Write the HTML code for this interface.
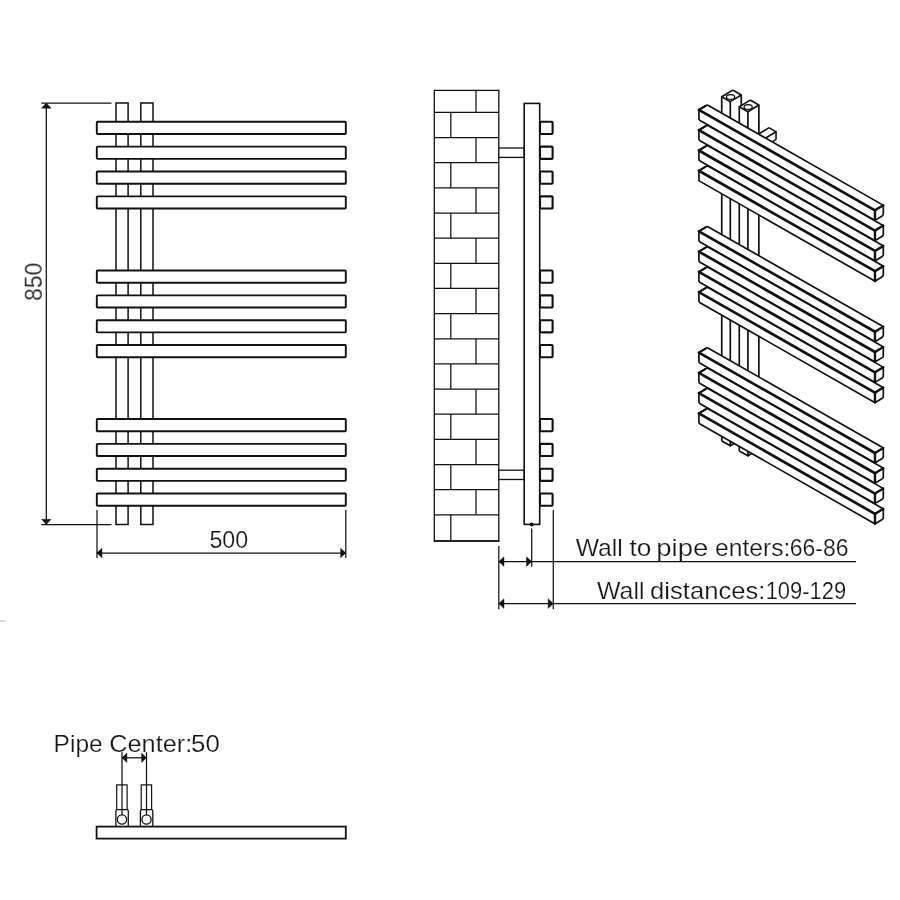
<!DOCTYPE html>
<html lang="en"><head><meta charset="utf-8"><title>Towel radiator dimensions</title>
<style>
html,body{margin:0;padding:0;background:#fff;}
body{width:900px;height:900px;overflow:hidden;}
svg{display:block;}
.t{font-family:"Liberation Sans",sans-serif;fill:#141414;stroke:#fff;stroke-width:0.22px;paint-order:fill stroke;opacity:0.995;}
</style></head><body>
<svg width="900" height="900" viewBox="0 0 900 900">
<rect width="900" height="900" fill="#fff"/>
<g>
<rect x="116.00" y="103.00" width="12.10" height="421.50" rx="0" fill="#fff" stroke="#111" stroke-width="1.5"/>
<rect x="140.80" y="103.00" width="12.20" height="421.50" rx="0" fill="#fff" stroke="#111" stroke-width="1.5"/>
<rect x="96.80" y="121.80" width="249.00" height="12.20" rx="0.8" fill="#fff" stroke="#111" stroke-width="1.9"/>
<rect x="96.80" y="146.65" width="249.00" height="12.20" rx="0.8" fill="#fff" stroke="#111" stroke-width="1.9"/>
<rect x="96.80" y="171.50" width="249.00" height="12.20" rx="0.8" fill="#fff" stroke="#111" stroke-width="1.9"/>
<rect x="96.80" y="196.35" width="249.00" height="12.20" rx="0.8" fill="#fff" stroke="#111" stroke-width="1.9"/>
<rect x="96.80" y="270.50" width="249.00" height="12.20" rx="0.8" fill="#fff" stroke="#111" stroke-width="1.9"/>
<rect x="96.80" y="295.35" width="249.00" height="12.20" rx="0.8" fill="#fff" stroke="#111" stroke-width="1.9"/>
<rect x="96.80" y="320.20" width="249.00" height="12.20" rx="0.8" fill="#fff" stroke="#111" stroke-width="1.9"/>
<rect x="96.80" y="345.05" width="249.00" height="12.20" rx="0.8" fill="#fff" stroke="#111" stroke-width="1.9"/>
<rect x="96.80" y="419.00" width="249.00" height="12.20" rx="0.8" fill="#fff" stroke="#111" stroke-width="1.9"/>
<rect x="96.80" y="443.85" width="249.00" height="12.20" rx="0.8" fill="#fff" stroke="#111" stroke-width="1.9"/>
<rect x="96.80" y="468.70" width="249.00" height="12.20" rx="0.8" fill="#fff" stroke="#111" stroke-width="1.9"/>
<rect x="96.80" y="493.55" width="249.00" height="12.20" rx="0.8" fill="#fff" stroke="#111" stroke-width="1.9"/>
<line x1="41.30" y1="103.00" x2="111.50" y2="103.00" stroke="#111" stroke-width="1.25" stroke-linecap="butt"/>
<line x1="41.30" y1="524.50" x2="111.50" y2="524.50" stroke="#111" stroke-width="1.25" stroke-linecap="butt"/>
<line x1="46.30" y1="103.00" x2="46.30" y2="524.50" stroke="#111" stroke-width="1.25" stroke-linecap="butt"/>
<polygon points="46.30,103.00 51.10,108.20 41.50,108.20" fill="#111" stroke="#111" stroke-width="0.4" stroke-linejoin="round"/>
<polygon points="46.30,524.50 41.50,519.30 51.10,519.30" fill="#111" stroke="#111" stroke-width="0.4" stroke-linejoin="round"/>
<line x1="97.00" y1="510.00" x2="97.00" y2="558.00" stroke="#111" stroke-width="1.25" stroke-linecap="butt"/>
<line x1="345.80" y1="510.00" x2="345.80" y2="558.00" stroke="#111" stroke-width="1.25" stroke-linecap="butt"/>
<line x1="96.80" y1="553.00" x2="345.80" y2="553.00" stroke="#111" stroke-width="1.25" stroke-linecap="butt"/>
<polygon points="96.80,553.00 102.00,548.20 102.00,557.80" fill="#111" stroke="#111" stroke-width="0.4" stroke-linejoin="round"/>
<polygon points="345.80,553.00 340.60,557.80 340.60,548.20" fill="#111" stroke="#111" stroke-width="0.4" stroke-linejoin="round"/>
<rect x="434.30" y="90.40" width="64.50" height="450.60" rx="0" fill="none" stroke="#111" stroke-width="1.3"/>
<line x1="434.30" y1="112.40" x2="498.80" y2="112.40" stroke="#111" stroke-width="1.25" stroke-linecap="butt"/>
<line x1="434.30" y1="137.55" x2="498.80" y2="137.55" stroke="#111" stroke-width="1.25" stroke-linecap="butt"/>
<line x1="434.30" y1="162.70" x2="498.80" y2="162.70" stroke="#111" stroke-width="1.25" stroke-linecap="butt"/>
<line x1="434.30" y1="187.85" x2="498.80" y2="187.85" stroke="#111" stroke-width="1.25" stroke-linecap="butt"/>
<line x1="434.30" y1="213.00" x2="498.80" y2="213.00" stroke="#111" stroke-width="1.25" stroke-linecap="butt"/>
<line x1="434.30" y1="238.15" x2="498.80" y2="238.15" stroke="#111" stroke-width="1.25" stroke-linecap="butt"/>
<line x1="434.30" y1="263.30" x2="498.80" y2="263.30" stroke="#111" stroke-width="1.25" stroke-linecap="butt"/>
<line x1="434.30" y1="288.45" x2="498.80" y2="288.45" stroke="#111" stroke-width="1.25" stroke-linecap="butt"/>
<line x1="434.30" y1="313.60" x2="498.80" y2="313.60" stroke="#111" stroke-width="1.25" stroke-linecap="butt"/>
<line x1="434.30" y1="338.75" x2="498.80" y2="338.75" stroke="#111" stroke-width="1.25" stroke-linecap="butt"/>
<line x1="434.30" y1="363.90" x2="498.80" y2="363.90" stroke="#111" stroke-width="1.25" stroke-linecap="butt"/>
<line x1="434.30" y1="389.05" x2="498.80" y2="389.05" stroke="#111" stroke-width="1.25" stroke-linecap="butt"/>
<line x1="434.30" y1="414.20" x2="498.80" y2="414.20" stroke="#111" stroke-width="1.25" stroke-linecap="butt"/>
<line x1="434.30" y1="439.35" x2="498.80" y2="439.35" stroke="#111" stroke-width="1.25" stroke-linecap="butt"/>
<line x1="434.30" y1="464.50" x2="498.80" y2="464.50" stroke="#111" stroke-width="1.25" stroke-linecap="butt"/>
<line x1="434.30" y1="489.65" x2="498.80" y2="489.65" stroke="#111" stroke-width="1.25" stroke-linecap="butt"/>
<line x1="434.30" y1="514.80" x2="498.80" y2="514.80" stroke="#111" stroke-width="1.25" stroke-linecap="butt"/>
<line x1="476.00" y1="90.40" x2="476.00" y2="112.40" stroke="#111" stroke-width="1.25" stroke-linecap="butt"/>
<line x1="450.80" y1="112.40" x2="450.80" y2="137.55" stroke="#111" stroke-width="1.25" stroke-linecap="butt"/>
<line x1="476.00" y1="137.55" x2="476.00" y2="162.70" stroke="#111" stroke-width="1.25" stroke-linecap="butt"/>
<line x1="450.80" y1="162.70" x2="450.80" y2="187.85" stroke="#111" stroke-width="1.25" stroke-linecap="butt"/>
<line x1="476.00" y1="187.85" x2="476.00" y2="213.00" stroke="#111" stroke-width="1.25" stroke-linecap="butt"/>
<line x1="450.80" y1="213.00" x2="450.80" y2="238.15" stroke="#111" stroke-width="1.25" stroke-linecap="butt"/>
<line x1="476.00" y1="238.15" x2="476.00" y2="263.30" stroke="#111" stroke-width="1.25" stroke-linecap="butt"/>
<line x1="450.80" y1="263.30" x2="450.80" y2="288.45" stroke="#111" stroke-width="1.25" stroke-linecap="butt"/>
<line x1="476.00" y1="288.45" x2="476.00" y2="313.60" stroke="#111" stroke-width="1.25" stroke-linecap="butt"/>
<line x1="450.80" y1="313.60" x2="450.80" y2="338.75" stroke="#111" stroke-width="1.25" stroke-linecap="butt"/>
<line x1="476.00" y1="338.75" x2="476.00" y2="363.90" stroke="#111" stroke-width="1.25" stroke-linecap="butt"/>
<line x1="450.80" y1="363.90" x2="450.80" y2="389.05" stroke="#111" stroke-width="1.25" stroke-linecap="butt"/>
<line x1="476.00" y1="389.05" x2="476.00" y2="414.20" stroke="#111" stroke-width="1.25" stroke-linecap="butt"/>
<line x1="450.80" y1="414.20" x2="450.80" y2="439.35" stroke="#111" stroke-width="1.25" stroke-linecap="butt"/>
<line x1="476.00" y1="439.35" x2="476.00" y2="464.50" stroke="#111" stroke-width="1.25" stroke-linecap="butt"/>
<line x1="450.80" y1="464.50" x2="450.80" y2="489.65" stroke="#111" stroke-width="1.25" stroke-linecap="butt"/>
<line x1="476.00" y1="489.65" x2="476.00" y2="514.80" stroke="#111" stroke-width="1.25" stroke-linecap="butt"/>
<line x1="450.80" y1="514.80" x2="450.80" y2="541.00" stroke="#111" stroke-width="1.25" stroke-linecap="butt"/>
<line x1="433.70" y1="541.00" x2="499.40" y2="541.00" stroke="#111" stroke-width="1.7" stroke-linecap="butt"/>
<rect x="498.80" y="148.00" width="25.40" height="9.40" rx="0" fill="#fff" stroke="#111" stroke-width="1.3"/>
<rect x="498.80" y="470.20" width="25.40" height="9.30" rx="0" fill="#fff" stroke="#111" stroke-width="1.3"/>
<rect x="524.20" y="103.40" width="15.50" height="421.00" rx="0" fill="#fff" stroke="#111" stroke-width="1.6"/>
<rect x="540.00" y="121.80" width="12.60" height="12.20" rx="0.9" fill="#fff" stroke="#111" stroke-width="2.1"/>
<rect x="540.00" y="146.65" width="12.60" height="12.20" rx="0.9" fill="#fff" stroke="#111" stroke-width="2.1"/>
<rect x="540.00" y="171.50" width="12.60" height="12.20" rx="0.9" fill="#fff" stroke="#111" stroke-width="2.1"/>
<rect x="540.00" y="196.35" width="12.60" height="12.20" rx="0.9" fill="#fff" stroke="#111" stroke-width="2.1"/>
<rect x="540.00" y="270.50" width="12.60" height="12.20" rx="0.9" fill="#fff" stroke="#111" stroke-width="2.1"/>
<rect x="540.00" y="295.35" width="12.60" height="12.20" rx="0.9" fill="#fff" stroke="#111" stroke-width="2.1"/>
<rect x="540.00" y="320.20" width="12.60" height="12.20" rx="0.9" fill="#fff" stroke="#111" stroke-width="2.1"/>
<rect x="540.00" y="345.05" width="12.60" height="12.20" rx="0.9" fill="#fff" stroke="#111" stroke-width="2.1"/>
<rect x="540.00" y="419.00" width="12.60" height="12.20" rx="0.9" fill="#fff" stroke="#111" stroke-width="2.1"/>
<rect x="540.00" y="443.85" width="12.60" height="12.20" rx="0.9" fill="#fff" stroke="#111" stroke-width="2.1"/>
<rect x="540.00" y="468.70" width="12.60" height="12.20" rx="0.9" fill="#fff" stroke="#111" stroke-width="2.1"/>
<rect x="540.00" y="493.55" width="12.60" height="12.20" rx="0.9" fill="#fff" stroke="#111" stroke-width="2.1"/>
<line x1="498.80" y1="546.00" x2="498.80" y2="609.30" stroke="#111" stroke-width="1.25" stroke-linecap="butt"/>
<line x1="531.70" y1="528.60" x2="531.70" y2="566.70" stroke="#111" stroke-width="1.25" stroke-linecap="butt"/>
<line x1="553.30" y1="510.00" x2="553.30" y2="609.30" stroke="#111" stroke-width="1.25" stroke-linecap="butt"/>
<line x1="498.80" y1="561.60" x2="856.00" y2="561.60" stroke="#111" stroke-width="1.25" stroke-linecap="butt"/>
<line x1="498.80" y1="603.60" x2="856.00" y2="603.60" stroke="#111" stroke-width="1.25" stroke-linecap="butt"/>
<circle cx="531.7" cy="524.4" r="2.0" fill="#111"/>
<polygon points="498.80,561.60 504.00,556.80 504.00,566.40" fill="#111" stroke="#111" stroke-width="0.4" stroke-linejoin="round"/>
<polygon points="531.70,561.60 526.50,566.40 526.50,556.80" fill="#111" stroke="#111" stroke-width="0.4" stroke-linejoin="round"/>
<polygon points="498.80,603.60 504.00,598.80 504.00,608.40" fill="#111" stroke="#111" stroke-width="0.4" stroke-linejoin="round"/>
<polygon points="553.30,603.60 548.10,608.40 548.10,598.80" fill="#111" stroke="#111" stroke-width="0.4" stroke-linejoin="round"/>
<rect x="116.70" y="784.90" width="10.40" height="24.70" rx="0" fill="#fff" stroke="#111" stroke-width="1.2"/>
<rect x="115.90" y="809.60" width="12.40" height="17.10" rx="1.5" fill="#fff" stroke="#111" stroke-width="1.3"/>
<line x1="122.00" y1="752.20" x2="122.00" y2="819.30" stroke="#111" stroke-width="1.25" stroke-linecap="butt"/>
<circle cx="122.0" cy="819.5" r="4.6" fill="#fff" stroke="#111" stroke-width="1.3"/>
<rect x="141.20" y="784.90" width="10.40" height="24.70" rx="0" fill="#fff" stroke="#111" stroke-width="1.2"/>
<rect x="140.40" y="809.60" width="12.40" height="17.10" rx="1.5" fill="#fff" stroke="#111" stroke-width="1.3"/>
<line x1="146.50" y1="752.20" x2="146.50" y2="819.30" stroke="#111" stroke-width="1.25" stroke-linecap="butt"/>
<circle cx="146.5" cy="819.5" r="4.6" fill="#fff" stroke="#111" stroke-width="1.3"/>
<rect x="96.60" y="826.60" width="249.20" height="12.00" rx="0" fill="#fff" stroke="#111" stroke-width="1.8"/>
<line x1="122.00" y1="757.80" x2="146.50" y2="757.80" stroke="#111" stroke-width="1.25" stroke-linecap="butt"/>
<polygon points="122.00,757.80 126.90,753.00 126.90,762.60" fill="#111" stroke="#111" stroke-width="0.4" stroke-linejoin="round"/>
<polygon points="146.50,757.80 141.60,762.60 141.60,753.00" fill="#111" stroke="#111" stroke-width="0.4" stroke-linejoin="round"/>
<line x1="0" y1="621" x2="5.6" y2="621" stroke="#c6c6c6" stroke-width="1.3"/>
<path d="M733.41 129.37 Q733.41 128.57 734.09 128.15 L750.68 118.09 Q751.37 117.68 752.06 118.08 L757.74 121.32 Q758.44 121.71 758.44 122.51 L758.44 128.59 Q758.44 129.39 757.75 129.80 L741.16 139.86 Q740.48 140.28 739.78 139.88 L734.10 136.64 Q733.41 136.24 733.41 135.44 Z" fill="#fff" stroke="#111" stroke-width="1.6" stroke-linejoin="round"/>
<line x1="740.48" y1="132.60" x2="733.41" y2="128.57" stroke="#111" stroke-width="1.6" stroke-linecap="round"/>
<line x1="740.48" y1="132.60" x2="758.44" y2="121.71" stroke="#111" stroke-width="1.6" stroke-linecap="round"/>
<line x1="740.48" y1="132.60" x2="740.48" y2="140.28" stroke="#111" stroke-width="1.6" stroke-linecap="round"/>
<path d="M733.41 392.44 Q733.41 391.64 734.09 391.23 L750.68 381.17 Q751.37 380.76 752.06 381.15 L757.74 384.39 Q758.44 384.79 758.44 385.59 L758.44 391.58 Q758.44 392.38 757.75 392.80 L741.16 402.86 Q740.48 403.27 739.78 402.88 L734.10 399.63 Q733.41 399.24 733.41 398.44 Z" fill="#fff" stroke="#111" stroke-width="1.6" stroke-linejoin="round"/>
<line x1="740.48" y1="395.68" x2="733.41" y2="391.64" stroke="#111" stroke-width="1.6" stroke-linecap="round"/>
<line x1="740.48" y1="395.68" x2="758.44" y2="384.79" stroke="#111" stroke-width="1.6" stroke-linecap="round"/>
<line x1="740.48" y1="395.68" x2="740.48" y2="403.27" stroke="#111" stroke-width="1.6" stroke-linecap="round"/>
<path d="M751.01 139.41 Q751.01 138.61 751.70 138.20 L768.29 128.14 Q768.97 127.72 769.67 128.12 L775.35 131.36 Q776.05 131.76 776.05 132.56 L776.05 138.63 Q776.05 139.43 775.36 139.85 L758.77 149.91 Q758.09 150.32 757.39 149.92 L751.71 146.68 Q751.01 146.29 751.01 145.49 Z" fill="#fff" stroke="#111" stroke-width="1.6" stroke-linejoin="round"/>
<line x1="758.09" y1="142.65" x2="751.01" y2="138.61" stroke="#111" stroke-width="1.6" stroke-linecap="round"/>
<line x1="758.09" y1="142.65" x2="776.05" y2="131.76" stroke="#111" stroke-width="1.6" stroke-linecap="round"/>
<line x1="758.09" y1="142.65" x2="758.09" y2="150.32" stroke="#111" stroke-width="1.6" stroke-linecap="round"/>
<path d="M751.01 402.49 Q751.01 401.69 751.70 401.27 L768.29 391.21 Q768.97 390.80 769.67 391.20 L775.35 394.44 Q776.05 394.83 776.05 395.63 L776.05 401.63 Q776.05 402.43 775.36 402.84 L758.77 412.90 Q758.09 413.31 757.39 412.92 L751.71 409.68 Q751.01 409.28 751.01 408.48 Z" fill="#fff" stroke="#111" stroke-width="1.6" stroke-linejoin="round"/>
<line x1="758.09" y1="405.72" x2="751.01" y2="401.69" stroke="#111" stroke-width="1.6" stroke-linecap="round"/>
<line x1="758.09" y1="405.72" x2="776.05" y2="394.83" stroke="#111" stroke-width="1.6" stroke-linecap="round"/>
<line x1="758.09" y1="405.72" x2="758.09" y2="413.31" stroke="#111" stroke-width="1.6" stroke-linecap="round"/>
<path d="M721.74 97.76 Q721.74 96.76 722.59 96.24 L731.84 90.63 Q732.70 90.12 733.57 90.61 L740.39 94.50 Q741.26 95.00 741.26 96.00 L741.26 438.15 Q741.26 439.15 740.40 439.67 L731.15 445.28 Q730.30 445.80 729.43 445.30 L722.61 441.41 Q721.74 440.92 721.74 439.92 Z" fill="#fff" stroke="#111" stroke-width="1.7" stroke-linejoin="round"/>
<line x1="730.30" y1="101.64" x2="721.74" y2="96.76" stroke="#111" stroke-width="1.7" stroke-linecap="round"/>
<line x1="730.30" y1="101.64" x2="741.26" y2="95.00" stroke="#111" stroke-width="1.7" stroke-linecap="round"/>
<line x1="730.30" y1="101.64" x2="730.30" y2="445.80" stroke="#111" stroke-width="1.7" stroke-linecap="round"/>
<ellipse cx="730.57" cy="96.94" rx="4.1" ry="2.4" fill="#fff" stroke="#111" stroke-width="1.3"/>
<path d="M739.28 107.76 Q739.28 106.76 740.13 106.25 L749.38 100.64 Q750.24 100.12 751.10 100.61 L757.99 104.54 Q758.86 105.04 758.86 106.04 L758.86 448.19 Q758.86 449.19 758.01 449.71 L748.76 455.32 Q747.90 455.84 747.03 455.34 L740.14 451.41 Q739.28 450.92 739.28 449.92 Z" fill="#fff" stroke="#111" stroke-width="1.7" stroke-linejoin="round"/>
<line x1="747.90" y1="111.68" x2="739.28" y2="106.76" stroke="#111" stroke-width="1.7" stroke-linecap="round"/>
<line x1="747.90" y1="111.68" x2="758.86" y2="105.04" stroke="#111" stroke-width="1.7" stroke-linecap="round"/>
<line x1="747.90" y1="111.68" x2="747.90" y2="455.84" stroke="#111" stroke-width="1.7" stroke-linecap="round"/>
<ellipse cx="748.15" cy="106.96" rx="4.1" ry="2.4" fill="#fff" stroke="#111" stroke-width="1.3"/>
<path d="M698.90 111.20 Q698.90 109.90 700.01 109.23 L706.13 105.52 Q707.24 104.84 708.37 105.49 L882.19 204.63 Q883.31 205.28 883.31 206.58 L883.31 213.94 Q883.31 215.24 882.20 215.91 L876.08 219.62 Q874.97 220.30 873.84 219.65 L700.03 120.51 Q698.90 119.86 698.90 118.56 Z" fill="#fff" stroke="#111" stroke-width="1.7" stroke-linejoin="round"/>
<path d="M698.90 109.90 L705.58 105.85" fill="none" stroke="#111" stroke-width="2.0" stroke-linecap="round"/>
<line x1="874.97" y1="210.33" x2="698.90" y2="109.90" stroke="#111" stroke-width="2.7" stroke-linecap="round"/>
<line x1="874.97" y1="210.33" x2="883.31" y2="205.28" stroke="#111" stroke-width="2.4" stroke-linecap="round"/>
<line x1="874.97" y1="210.33" x2="874.97" y2="220.30" stroke="#111" stroke-width="2.4" stroke-linecap="round"/>
<path d="M698.90 131.49 Q698.90 130.19 700.01 129.52 L706.13 125.81 Q707.24 125.13 708.37 125.78 L882.19 224.92 Q883.31 225.57 883.31 226.87 L883.31 234.23 Q883.31 235.53 882.20 236.20 L876.08 239.91 Q874.97 240.59 873.84 239.94 L700.03 140.80 Q698.90 140.15 698.90 138.85 Z" fill="#fff" stroke="#111" stroke-width="1.7" stroke-linejoin="round"/>
<path d="M698.90 130.19 L705.58 126.14" fill="none" stroke="#111" stroke-width="2.0" stroke-linecap="round"/>
<line x1="874.97" y1="230.62" x2="698.90" y2="130.19" stroke="#111" stroke-width="2.7" stroke-linecap="round"/>
<line x1="874.97" y1="230.62" x2="883.31" y2="225.57" stroke="#111" stroke-width="2.4" stroke-linecap="round"/>
<line x1="874.97" y1="230.62" x2="874.97" y2="240.59" stroke="#111" stroke-width="2.4" stroke-linecap="round"/>
<path d="M698.90 151.78 Q698.90 150.48 700.01 149.81 L706.13 146.10 Q707.24 145.42 708.37 146.07 L882.19 245.21 Q883.31 245.86 883.31 247.16 L883.31 254.52 Q883.31 255.82 882.20 256.49 L876.08 260.20 Q874.97 260.88 873.84 260.23 L700.03 161.09 Q698.90 160.44 698.90 159.14 Z" fill="#fff" stroke="#111" stroke-width="1.7" stroke-linejoin="round"/>
<path d="M698.90 150.48 L705.58 146.43" fill="none" stroke="#111" stroke-width="2.0" stroke-linecap="round"/>
<line x1="874.97" y1="250.91" x2="698.90" y2="150.48" stroke="#111" stroke-width="2.7" stroke-linecap="round"/>
<line x1="874.97" y1="250.91" x2="883.31" y2="245.86" stroke="#111" stroke-width="2.4" stroke-linecap="round"/>
<line x1="874.97" y1="250.91" x2="874.97" y2="260.88" stroke="#111" stroke-width="2.4" stroke-linecap="round"/>
<path d="M698.90 172.07 Q698.90 170.77 700.01 170.10 L706.13 166.39 Q707.24 165.71 708.37 166.36 L882.19 265.50 Q883.31 266.15 883.31 267.45 L883.31 274.81 Q883.31 276.11 882.20 276.78 L876.08 280.49 Q874.97 281.17 873.84 280.52 L700.03 181.38 Q698.90 180.73 698.90 179.43 Z" fill="#fff" stroke="#111" stroke-width="1.7" stroke-linejoin="round"/>
<path d="M698.90 170.77 L705.58 166.72" fill="none" stroke="#111" stroke-width="2.0" stroke-linecap="round"/>
<line x1="874.97" y1="271.20" x2="698.90" y2="170.77" stroke="#111" stroke-width="2.7" stroke-linecap="round"/>
<line x1="874.97" y1="271.20" x2="883.31" y2="266.15" stroke="#111" stroke-width="2.4" stroke-linecap="round"/>
<line x1="874.97" y1="271.20" x2="874.97" y2="281.17" stroke="#111" stroke-width="2.4" stroke-linecap="round"/>
<path d="M698.90 232.61 Q698.90 231.31 700.01 230.64 L706.13 226.93 Q707.24 226.26 708.37 226.90 L882.19 326.05 Q883.31 326.69 883.31 327.99 L883.31 335.35 Q883.31 336.65 882.20 337.32 L876.08 341.04 Q874.97 341.71 873.84 341.07 L700.03 241.92 Q698.90 241.27 698.90 239.97 Z" fill="#fff" stroke="#111" stroke-width="1.7" stroke-linejoin="round"/>
<path d="M698.90 231.31 L705.58 227.27" fill="none" stroke="#111" stroke-width="2.0" stroke-linecap="round"/>
<line x1="874.97" y1="331.75" x2="698.90" y2="231.31" stroke="#111" stroke-width="2.7" stroke-linecap="round"/>
<line x1="874.97" y1="331.75" x2="883.31" y2="326.69" stroke="#111" stroke-width="2.4" stroke-linecap="round"/>
<line x1="874.97" y1="331.75" x2="874.97" y2="341.71" stroke="#111" stroke-width="2.4" stroke-linecap="round"/>
<path d="M698.90 252.90 Q698.90 251.60 700.01 250.93 L706.13 247.22 Q707.24 246.55 708.37 247.19 L882.19 346.34 Q883.31 346.98 883.31 348.28 L883.31 355.64 Q883.31 356.94 882.20 357.61 L876.08 361.33 Q874.97 362.00 873.84 361.36 L700.03 262.21 Q698.90 261.56 698.90 260.26 Z" fill="#fff" stroke="#111" stroke-width="1.7" stroke-linejoin="round"/>
<path d="M698.90 251.60 L705.58 247.56" fill="none" stroke="#111" stroke-width="2.0" stroke-linecap="round"/>
<line x1="874.97" y1="352.04" x2="698.90" y2="251.60" stroke="#111" stroke-width="2.7" stroke-linecap="round"/>
<line x1="874.97" y1="352.04" x2="883.31" y2="346.98" stroke="#111" stroke-width="2.4" stroke-linecap="round"/>
<line x1="874.97" y1="352.04" x2="874.97" y2="362.00" stroke="#111" stroke-width="2.4" stroke-linecap="round"/>
<path d="M698.90 273.19 Q698.90 271.89 700.01 271.22 L706.13 267.51 Q707.24 266.84 708.37 267.48 L882.19 366.63 Q883.31 367.27 883.31 368.57 L883.31 375.93 Q883.31 377.23 882.20 377.91 L876.08 381.62 Q874.97 382.29 873.84 381.65 L700.03 282.50 Q698.90 281.85 698.90 280.55 Z" fill="#fff" stroke="#111" stroke-width="1.7" stroke-linejoin="round"/>
<path d="M698.90 271.89 L705.58 267.85" fill="none" stroke="#111" stroke-width="2.0" stroke-linecap="round"/>
<line x1="874.97" y1="372.33" x2="698.90" y2="271.89" stroke="#111" stroke-width="2.7" stroke-linecap="round"/>
<line x1="874.97" y1="372.33" x2="883.31" y2="367.27" stroke="#111" stroke-width="2.4" stroke-linecap="round"/>
<line x1="874.97" y1="372.33" x2="874.97" y2="382.29" stroke="#111" stroke-width="2.4" stroke-linecap="round"/>
<path d="M698.90 293.48 Q698.90 292.18 700.01 291.51 L706.13 287.80 Q707.24 287.13 708.37 287.77 L882.19 386.92 Q883.31 387.56 883.31 388.86 L883.31 396.22 Q883.31 397.52 882.20 398.20 L876.08 401.91 Q874.97 402.58 873.84 401.94 L700.03 302.79 Q698.90 302.14 698.90 300.84 Z" fill="#fff" stroke="#111" stroke-width="1.7" stroke-linejoin="round"/>
<path d="M698.90 292.18 L705.58 288.14" fill="none" stroke="#111" stroke-width="2.0" stroke-linecap="round"/>
<line x1="874.97" y1="392.62" x2="698.90" y2="292.18" stroke="#111" stroke-width="2.7" stroke-linecap="round"/>
<line x1="874.97" y1="392.62" x2="883.31" y2="387.56" stroke="#111" stroke-width="2.4" stroke-linecap="round"/>
<line x1="874.97" y1="392.62" x2="874.97" y2="402.58" stroke="#111" stroke-width="2.4" stroke-linecap="round"/>
<path d="M698.90 353.86 Q698.90 352.56 700.01 351.89 L706.13 348.18 Q707.24 347.51 708.37 348.15 L882.19 447.30 Q883.31 447.94 883.31 449.24 L883.31 456.60 Q883.31 457.90 882.20 458.58 L876.08 462.29 Q874.97 462.96 873.84 462.32 L700.03 363.17 Q698.90 362.53 698.90 361.23 Z" fill="#fff" stroke="#111" stroke-width="1.7" stroke-linejoin="round"/>
<path d="M698.90 352.56 L705.58 348.52" fill="none" stroke="#111" stroke-width="2.0" stroke-linecap="round"/>
<line x1="874.97" y1="453.00" x2="698.90" y2="352.56" stroke="#111" stroke-width="2.7" stroke-linecap="round"/>
<line x1="874.97" y1="453.00" x2="883.31" y2="447.94" stroke="#111" stroke-width="2.4" stroke-linecap="round"/>
<line x1="874.97" y1="453.00" x2="874.97" y2="462.96" stroke="#111" stroke-width="2.4" stroke-linecap="round"/>
<path d="M698.90 374.15 Q698.90 372.85 700.01 372.18 L706.13 368.47 Q707.24 367.80 708.37 368.44 L882.19 467.59 Q883.31 468.23 883.31 469.53 L883.31 476.89 Q883.31 478.19 882.20 478.87 L876.08 482.58 Q874.97 483.25 873.84 482.61 L700.03 383.46 Q698.90 382.82 698.90 381.52 Z" fill="#fff" stroke="#111" stroke-width="1.7" stroke-linejoin="round"/>
<path d="M698.90 372.85 L705.58 368.81" fill="none" stroke="#111" stroke-width="2.0" stroke-linecap="round"/>
<line x1="874.97" y1="473.29" x2="698.90" y2="372.85" stroke="#111" stroke-width="2.7" stroke-linecap="round"/>
<line x1="874.97" y1="473.29" x2="883.31" y2="468.23" stroke="#111" stroke-width="2.4" stroke-linecap="round"/>
<line x1="874.97" y1="473.29" x2="874.97" y2="483.25" stroke="#111" stroke-width="2.4" stroke-linecap="round"/>
<path d="M698.90 394.44 Q698.90 393.14 700.01 392.47 L706.13 388.76 Q707.24 388.09 708.37 388.73 L882.19 487.88 Q883.31 488.52 883.31 489.82 L883.31 497.18 Q883.31 498.48 882.20 499.16 L876.08 502.87 Q874.97 503.54 873.84 502.90 L700.03 403.75 Q698.90 403.11 698.90 401.81 Z" fill="#fff" stroke="#111" stroke-width="1.7" stroke-linejoin="round"/>
<path d="M698.90 393.14 L705.58 389.10" fill="none" stroke="#111" stroke-width="2.0" stroke-linecap="round"/>
<line x1="874.97" y1="493.58" x2="698.90" y2="393.14" stroke="#111" stroke-width="2.7" stroke-linecap="round"/>
<line x1="874.97" y1="493.58" x2="883.31" y2="488.52" stroke="#111" stroke-width="2.4" stroke-linecap="round"/>
<line x1="874.97" y1="493.58" x2="874.97" y2="503.54" stroke="#111" stroke-width="2.4" stroke-linecap="round"/>
<path d="M698.90 414.73 Q698.90 413.43 700.01 412.76 L706.13 409.05 Q707.24 408.38 708.37 409.02 L882.19 508.17 Q883.31 508.81 883.31 510.11 L883.31 517.47 Q883.31 518.77 882.20 519.45 L876.08 523.16 Q874.97 523.83 873.84 523.19 L700.03 424.04 Q698.90 423.40 698.90 422.10 Z" fill="#fff" stroke="#111" stroke-width="1.7" stroke-linejoin="round"/>
<path d="M698.90 413.43 L705.58 409.39" fill="none" stroke="#111" stroke-width="2.0" stroke-linecap="round"/>
<line x1="874.97" y1="513.87" x2="698.90" y2="413.43" stroke="#111" stroke-width="2.7" stroke-linecap="round"/>
<line x1="874.97" y1="513.87" x2="883.31" y2="508.81" stroke="#111" stroke-width="2.4" stroke-linecap="round"/>
<line x1="874.97" y1="513.87" x2="874.97" y2="523.83" stroke="#111" stroke-width="2.4" stroke-linecap="round"/>
</g>
<g class="t">
<text x="41.50" y="281.70" font-size="24" text-anchor="middle" textLength="38.3" lengthAdjust="spacingAndGlyphs" transform="rotate(-90 41.50 281.70)">850</text>
<text x="228.80" y="547.80" font-size="24" text-anchor="middle" textLength="38.7" lengthAdjust="spacingAndGlyphs">500</text>
<text y="556.1" font-size="23.8"><tspan x="575.69" textLength="47.12" lengthAdjust="spacingAndGlyphs">Wall</tspan> <tspan x="629.45" textLength="21.87" lengthAdjust="spacingAndGlyphs">to</tspan> <tspan x="656.31" textLength="52.02" lengthAdjust="spacingAndGlyphs">pipe</tspan> <tspan x="715.14" textLength="75.26" lengthAdjust="spacingAndGlyphs">enters:</tspan><tspan x="789.74" textLength="58.73" lengthAdjust="spacingAndGlyphs">66-86</tspan></text>
<text y="598.6" font-size="23.8"><tspan x="597.05" textLength="47.47" lengthAdjust="spacingAndGlyphs">Wall</tspan> <tspan x="650.10" textLength="115.35" lengthAdjust="spacingAndGlyphs">distances:</tspan><tspan x="765.66" textLength="80.45" lengthAdjust="spacingAndGlyphs">109-129</tspan></text>
<text y="752.4" font-size="23.8"><tspan x="53.63" textLength="49.11" lengthAdjust="spacingAndGlyphs">Pipe</tspan> <tspan x="109.19" textLength="83.04" lengthAdjust="spacingAndGlyphs">Center:</tspan><tspan x="191.06" textLength="28.74" lengthAdjust="spacingAndGlyphs">50</tspan></text>
</g>
</svg>
</body></html>
